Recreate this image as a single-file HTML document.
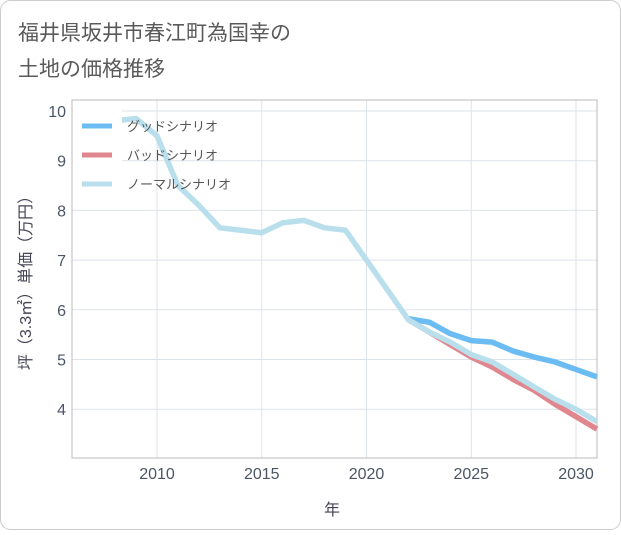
<!DOCTYPE html>
<html><head><meta charset="utf-8"><style>
body{margin:0;background:#fff;font-family:"Liberation Sans","Noto Sans CJK JP",sans-serif}
</style></head><body>
<svg width="621" height="530" xmlns="http://www.w3.org/2000/svg" font-family="Liberation Sans, Noto Sans CJK JP, sans-serif">
<rect x="0.5" y="0.5" width="620" height="529" rx="10" fill="#fff" stroke="#ccc"/>
<text x="18" y="40" font-size="21" fill="#5a5a5a">福井県坂井市春江町為国幸の</text>
<text x="18" y="76" font-size="21" fill="#5a5a5a">土地の価格推移</text>
<g id="grid"></g>
<rect x="72" y="100" width="525" height="358" fill="none" stroke="#bbb"/>
<g id="series"></g>
<g id="legend"></g>
<g id="axes"></g>
<text x="332" y="515" font-size="16" fill="#445" text-anchor="middle">年</text>
<text transform="translate(31,279) rotate(-90)" font-size="16" fill="#445" text-anchor="middle">坪（3.3㎡）単価（万円）</text>
</svg>
<script>
const years=[2008,2009,2010,2011,2012,2013,2014,2015,2016,2017,2018,2019,2020,2021,2022,2023,2024,2025,2026,2027,2028,2029,2030,2031];
const normal=[9.8,9.85,9.5,8.5,8.1,7.65,7.6,7.55,7.75,7.8,7.65,7.6,7.0,6.4,5.8,5.55,5.35,5.1,4.95,4.7,4.45,4.2,4.0,3.75];
const goodYears=[2022,2023,2024,2025,2026,2027,2028,2029,2030,2031];
const good=[5.82,5.75,5.52,5.38,5.35,5.17,5.05,4.95,4.8,4.65];
const bad=[5.8,5.55,5.3,5.05,4.85,4.6,4.38,4.1,3.85,3.6];
const xTicks=[2010,2015,2020,2025,2030];
const yTicks=[4,5,6,7,8,9,10];
const NS="http://www.w3.org/2000/svg";
const X=y=>157+(y-2010)*20.95;
const Y=v=>111+(10-v)*49.7;
function mk(t,a,p){const e=document.createElementNS(NS,t);for(const k in a)e.setAttribute(k,a[k]);p.appendChild(e);return e;}
const grid=document.getElementById('grid'),axes=document.getElementById('axes');
xTicks.forEach(t=>{const l=mk('line',{x1:X(t),x2:X(t),y1:100,y2:458,stroke:'#dde3ea'},grid);


const tx=mk('text',{x:X(t),y:479,'font-size':16,fill:'#4a5566','text-anchor':'middle'},axes);tx.textContent=t;

});
yTicks.forEach(t=>{const l=mk('line',{x1:72,x2:597,y1:Y(t),y2:Y(t),stroke:'#dde3ea'},grid);


const tx=mk('text',{x:66,y:Y(t)+6,'font-size':16,fill:'#4a5566','text-anchor':'end'},axes);tx.textContent=t;

});
const ser=document.getElementById('series');
function line(xs,vs,c,name){const p=mk('polyline',{points:xs.map((y,i)=>X(y)+','+Y(vs[i])).join(' '),fill:'none',stroke:c,'stroke-width':5.5,'stroke-linejoin':'round'},ser);

}
line(goodYears,good,'#6bbcf2','good-scenario-line');
line(goodYears,bad,'#e0868f','bad-scenario-line');
line(years,normal,'#b9dfec','normal-scenario-line');
const clip=mk('rect',{x:73,y:101,width:49,height:100,fill:'#fff'},ser);


const lg=document.getElementById('legend');
const leg=[['グッドシナリオ','#6bbcf2'],['バッドシナリオ','#e0868f'],['ノーマルシナリオ','#b9dfec']];
leg.forEach((d,i)=>{const y=126+i*29;
const s=mk('line',{x1:82,x2:112,y1:y,y2:y,stroke:d[1],'stroke-width':5},lg);


const t=mk('text',{x:127,y:y+5,'font-size':13,fill:'#555'},lg);t.textContent=d[0];

});
</script>
</body></html>
